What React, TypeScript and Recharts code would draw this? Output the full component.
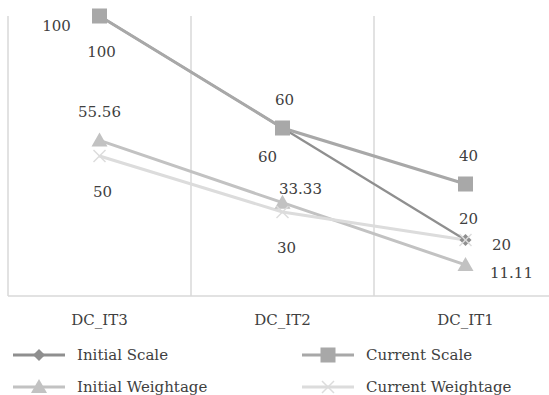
import React from "react";
import { LineChart, Line, XAxis, YAxis, CartesianGrid, Legend, LabelList } from "recharts";

// Iterations on the x axis
const iterations = ["DC_IT3", "DC_IT2", "DC_IT1"];

// Series values per iteration
const initialScale = [100, 60, 20];
const currentScale = [100, 60, 40];
const initialWeightage = [55.56, 33.33, 11.11];
const currentWeightage = [50, 30, 20];

const data = iterations.map((name, i) => ({
  name,
  initialScale: initialScale[i],
  currentScale: currentScale[i],
  initialWeightage: initialWeightage[i],
  currentWeightage: currentWeightage[i],
}));

const FONT = "DejaVu Serif";
const FONT_SIZE = 15;
const TEXT = "#404040";
const GRID = "#d9d9d9";

type Marker = "diamond" | "square" | "triangle" | "cross";

// label nudges (dx, dy) from each point, per series
const series: {
  key: string;
  name: string;
  color: string;
  width: number;
  marker: Marker;
  nudges: [number, number][];
}[] = [
  { key: "initialScale", name: "Initial Scale", color: "#8f8f8f", width: 2.25, marker: "diamond", nudges: [[-43, 10], [-15, 29], [3, -21]] },
  { key: "currentScale", name: "Current Scale", color: "#a8a8a8", width: 3, marker: "square", nudges: [[2, 36], [2, -28], [3, -28]] },
  { key: "initialWeightage", name: "Initial Weightage", color: "#c2c2c2", width: 3, marker: "triangle", nudges: [[0, -28], [18, -14], [46, 8]] },
  { key: "currentWeightage", name: "Current Weightage", color: "#dcdcdc", width: 3, marker: "cross", nudges: [[3, 36], [4, 36], [36, 5]] },
];

function MarkerShape({ type, cx, cy, color }: { type: Marker; cx: number; cy: number; color: string }) {
  switch (type) {
    case "diamond":
      return <polygon points={`${cx},${cy - 6} ${cx + 6},${cy} ${cx},${cy + 6} ${cx - 6},${cy}`} fill={color} />;
    case "square":
      return <rect x={cx - 7.5} y={cy - 7.5} width={15} height={15} fill={color} />;
    case "triangle":
      return <polygon points={`${cx},${cy - 8} ${cx + 8},${cy + 6} ${cx - 8},${cy + 6}`} fill={color} />;
    default:
      return (
        <g stroke={color} strokeWidth={1.5}>
          <line x1={cx - 6} y1={cy - 6} x2={cx + 6} y2={cy + 6} />
          <line x1={cx - 6} y1={cy + 6} x2={cx + 6} y2={cy - 6} />
        </g>
      );
  }
}

function LegendContent() {
  const cols = [13, 302];
  const rows = [19, 51];
  return (
    <div style={{ position: "relative", width: 557, height: 59, fontFamily: FONT, fontSize: FONT_SIZE, color: TEXT }}>
      {series.map((s, i) => {
        const left = cols[i % 2];
        const top = rows[Math.floor(i / 2)];
        return (
          <div key={s.key} style={{ position: "absolute", left, top: top - 12, height: 24, display: "flex", alignItems: "center", whiteSpace: "nowrap" }}>
            <svg width={52} height={24} style={{ overflow: "visible" }}>
              <line x1={0} y1={12} x2={52} y2={12} stroke={s.color} strokeWidth={3} />
              <MarkerShape type={s.marker} cx={26} cy={12} color={s.color} />
            </svg>
            <span style={{ marginLeft: 12 }}>{s.name}</span>
          </div>
        );
      })}
    </div>
  );
}

export default function App() {
  return (
    <div style={{ position: "absolute", left: 0, top: 0, width: 549, height: 395, overflow: "hidden", background: "#fff" }}>
      <LineChart width={557} height={395} data={data} margin={{ top: 16, right: 0, left: 8, bottom: 0 }}>
        <CartesianGrid
          horizontal={false}
          stroke={GRID}
          strokeWidth={1.5}
          verticalCoordinatesGenerator={({ offset }: any) =>
            [0, 1, 2, 3].map((i) => offset.left + (i * offset.width) / iterations.length)
          }
        />
        <XAxis
          dataKey="name"
          scale="band"
          height={40}
          tickLine={false}
          tickSize={0}
          tickMargin={18}
          axisLine={{ stroke: GRID, strokeWidth: 1.5 }}
          tick={{ fontSize: FONT_SIZE, fill: TEXT, fontFamily: FONT }}
        />
        <YAxis hide domain={[0, 100]} />
        <Legend verticalAlign="bottom" wrapperStyle={{ left: 0, width: 557 }} content={() => <LegendContent />} />
        {series.map((s) => (
          <Line
            key={s.key}
            dataKey={s.key}
            name={s.name}
            stroke={s.color}
            strokeWidth={s.width}
            isAnimationActive={false}
            dot={(p: any) => <MarkerShape key={`${s.key}-${p.index}`} type={s.marker} cx={p.cx} cy={p.cy} color={s.color} />}
            activeDot={false}
          >
            <LabelList
              dataKey={s.key}
              content={(p: any) => {
                const [dx, dy] = s.nudges[p.index] || [0, 0];
                return (
                  <text
                    x={p.x + dx}
                    y={p.y + dy}
                    textAnchor="middle"
                    dominantBaseline="central"
                    fontSize={FONT_SIZE}
                    fontFamily={FONT}
                    fill={TEXT}
                  >
                    {p.value}
                  </text>
                );
              }}
            />
          </Line>
        ))}
      </LineChart>
    </div>
  );
}
